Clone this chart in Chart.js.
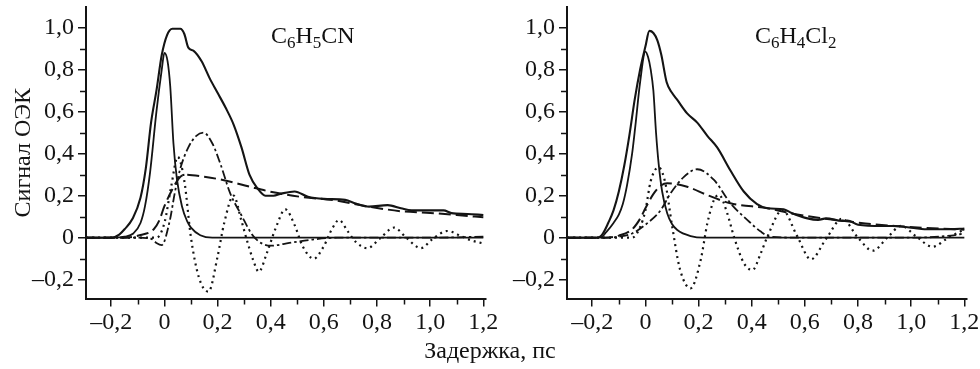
<!DOCTYPE html>
<html><head><meta charset="utf-8">
<script src="https://cdn.jsdelivr.net/npm/chart.js@4.4.0/dist/chart.umd.min.js"></script>
<style>
html,body{margin:0;padding:0;background:#fff;}
#wrap{position:relative;width:980px;height:369px;overflow:hidden;font-family:'Liberation Serif','Times New Roman',serif;color:#111;}
canvas{position:absolute;top:0;}
#cL{left:0;} #cR{left:490px;}
.lbl{position:absolute;font-size:24px;line-height:24px;white-space:nowrap;}
.lbl sub{font-size:17px;vertical-align:-5px;line-height:0;}
</style></head><body>
<div id="wrap">
<canvas id="cL" width="520" height="369"></canvas>
<canvas id="cR" width="490" height="369"></canvas>
<div class="lbl" id="fL" style="left:271px;top:23px">C<sub>6</sub>H<sub>5</sub>CN</div>
<div class="lbl" id="fR" style="left:755px;top:23px">C<sub>6</sub>H<sub>4</sub>Cl<sub>2</sub></div>
<div class="lbl" id="xt" style="left:0;width:980px;text-align:center;top:338px">Задержка, пс</div>
</div>
<script>
// ---- data: C6H5CN (left panel) ----
const cnTotalT = [-0.295,-0.2,-0.17,-0.15,-0.12,-0.09,-0.07,-0.05,-0.03,-0.01,0.01,0.03,0.06,0.075,0.09,0.11,0.14,0.17,0.2,0.23,0.26,0.29,0.32,0.35,0.38,0.41,0.44,0.49,0.54,0.6,0.68,0.72,0.77,0.84,0.89,0.93,1.05,1.08,1.14,1.2];
const cnTotalV = [0,0,0.015,0.04,0.09,0.19,0.33,0.55,0.70,0.87,0.965,0.995,0.995,0.97,0.905,0.89,0.84,0.76,0.69,0.62,0.54,0.43,0.30,0.235,0.2,0.2,0.21,0.22,0.195,0.185,0.18,0.163,0.148,0.155,0.14,0.13,0.13,0.117,0.113,0.108];
const cnPulseT = [-0.295,-0.19,-0.15,-0.117,-0.09,-0.073,-0.054,-0.03,-0.01,0,0.012,0.022,0.034,0.047,0.066,0.085,0.1,0.135,0.18,1.2];
const cnPulseV = [0,0,0.005,0.02,0.07,0.15,0.31,0.6,0.8,0.88,0.84,0.72,0.45,0.28,0.15,0.08,0.048,0.012,0,0];
const cnDashT = [-0.295,-0.15,-0.09,-0.04,-0.02,0,0.034,0.06,0.08,0.15,0.22,0.32,0.41,0.51,0.64,0.76,0.89,1.0,1.1,1.2];
const cnDashV = [0,0,0.013,0.04,0.08,0.15,0.24,0.29,0.30,0.29,0.275,0.243,0.216,0.195,0.178,0.15,0.126,0.118,0.108,0.097];
const cnDashDotT = [-0.295,-0.1,-0.05,-0.03,-0.01,0.02,0.04,0.06,0.09,0.12,0.147,0.18,0.21,0.248,0.286,0.336,0.4,0.47,0.55,0.65,0.8,1.0,1.2];
const cnDashDotV = [0,0,-0.005,-0.025,-0.035,0.08,0.22,0.33,0.43,0.485,0.5,0.45,0.354,0.21,0.116,0.005,-0.038,-0.025,-0.01,0,0,0,0.005];
const cnDotT = [-0.295,-0.03,0,0.025,0.05,0.075,0.1,0.13,0.166,0.2,0.225,0.26,0.29,0.31,0.335,0.355,0.385,0.42,0.455,0.49,0.52,0.562,0.6,0.63,0.657,0.69,0.72,0.764,0.81,0.864,0.91,0.965,1.01,1.065,1.12,1.16,1.2];
const cnDotV = [0,0,0.07,0.24,0.385,0.27,0.0,-0.19,-0.257,-0.09,0.07,0.2,0.08,-0.01,-0.11,-0.162,-0.075,0.05,0.135,0.06,-0.04,-0.1,-0.04,0.04,0.084,0.03,-0.02,-0.05,-0.005,0.048,0.0,-0.05,-0.005,0.032,0.005,-0.015,-0.027];

// ---- data: C6H4Cl2 (right panel) ----
const clTotalT = [-0.295,-0.18,-0.16,-0.14,-0.12,-0.1,-0.08,-0.06,-0.04,-0.02,0,0.015,0.03,0.045,0.06,0.08,0.1,0.12,0.157,0.195,0.233,0.27,0.32,0.37,0.42,0.46,0.52,0.55,0.61,0.65,0.68,0.74,0.76,0.8,0.89,0.93,1.01,1.05,1.15,1.2];
const clTotalV = [0,0,0.02,0.07,0.13,0.22,0.34,0.49,0.66,0.8,0.91,0.985,0.975,0.94,0.87,0.74,0.69,0.656,0.592,0.548,0.485,0.43,0.32,0.22,0.16,0.14,0.135,0.118,0.092,0.085,0.092,0.08,0.082,0.062,0.056,0.056,0.046,0.04,0.04,0.044];
const clPulseT = [-0.295,-0.17,-0.145,-0.12,-0.1,-0.085,-0.069,-0.05,-0.038,-0.02,0,0.01,0.02,0.03,0.04,0.05,0.063,0.082,0.1,0.12,0.17,0.22,1.2];
const clPulseV = [0,0,0.03,0.07,0.11,0.16,0.25,0.4,0.53,0.74,0.886,0.86,0.8,0.7,0.5,0.35,0.22,0.116,0.065,0.037,0.008,0,0];
const clDashT = [-0.295,-0.15,-0.1,-0.05,-0.02,0,0.031,0.06,0.082,0.157,0.233,0.32,0.46,0.55,0.65,0.75,0.85,0.95,1.05,1.2];
const clDashV = [0,0,0.01,0.04,0.09,0.14,0.21,0.25,0.259,0.243,0.203,0.164,0.14,0.115,0.095,0.08,0.065,0.055,0.047,0.038];
const clDashDotT = [-0.295,-0.15,-0.1,-0.05,0.006,0.057,0.094,0.145,0.195,0.258,0.32,0.384,0.434,0.47,0.6,0.8,1.0,1.15,1.2];
const clDashDotV = [0,0,0.005,0.02,0.068,0.13,0.21,0.29,0.326,0.275,0.164,0.084,0.029,0.005,0,0,0,0.01,0.02];
const clDotT = [-0.295,-0.05,-0.02,0,0.02,0.05,0.075,0.1,0.13,0.17,0.208,0.233,0.258,0.277,0.308,0.333,0.371,0.403,0.434,0.459,0.516,0.57,0.623,0.68,0.74,0.8,0.855,0.91,0.962,1.02,1.08,1.14,1.2];
const clDotV = [0,0,0.05,0.13,0.27,0.335,0.26,0.06,-0.15,-0.241,-0.106,0.068,0.18,0.203,0.116,0.005,-0.122,-0.154,-0.074,0.005,0.132,0.01,-0.103,-0.005,0.09,0.0,-0.062,0.0,0.056,0.005,-0.043,0.0,0.04];

// ---- ticks ----
const xMajor = [-0.2,0,0.2,0.4,0.6,0.8,1.0,1.2];
const xMinor = [-0.1,0.1,0.3,0.5,0.7,0.9,1.1];
const yMajor = [-0.2,0,0.2,0.4,0.6,0.8,1.0];
const yMinor = [-0.1,0.1,0.3,0.5,0.7,0.9];
const yTitle = 'Сигнал ОЭК';

const INK = '#141414';
const FONT = "'Liberation Serif','Times New Roman',serif";
const FS = 24;

function fmt(v){
  if (Math.abs(v) < 1e-9) return '0';
  return (v < 0 ? '\u2013' : '') + Math.abs(v).toFixed(1).replace('.', ',');
}
function ds(t, v, w, dash){
  return { data: t.map((x,i)=>({x:x, y:v[i]})), borderColor: INK, borderWidth: w,
    borderDash: dash, pointRadius: 0, fill: false, cubicInterpolationMode: 'monotone' };
}
const minorTicks = {
  id: 'minorTicks',
  afterDraw(chart){
    const {ctx} = chart; const x = chart.scales.x, y = chart.scales.y;
    ctx.save(); ctx.strokeStyle = INK; ctx.lineWidth = 1.5; ctx.beginPath();
    xMinor.forEach(v=>{ const p = Math.round(x.getPixelForValue(v))+0.5; ctx.moveTo(p, x.top); ctx.lineTo(p, x.top+6); });
    yMinor.forEach(v=>{ const p = Math.round(y.getPixelForValue(v))+0.5; ctx.moveTo(y.right, p); ctx.lineTo(y.right-6, p); });
    ctx.stroke(); ctx.restore();
  }
};

function makeChart(id, sets, yWidth, padRight, showTitle){
  return new Chart(document.getElementById(id), {
    type: 'line',
    data: { datasets: [
      ds(sets[0], sets[1], 2.1, []),
      ds(sets[2], sets[3], 1.8, []),
      ds(sets[4], sets[5], 2, [12,5]),
      ds(sets[6], sets[7], 1.8, [9,3,2.5,3]),
      ds(sets[8], sets[9], 2.2, [2,4])
    ]},
    options: {
      responsive: false, animation: false, devicePixelRatio: 1,
      layout: { padding: { left: 0, right: padRight, top: 6.7, bottom: 0 } },
      plugins: { legend: {display:false}, tooltip: {enabled:false} },
      scales: {
        x: { type: 'linear', min: -0.295, max: 1.21,
          afterBuildTicks: s => { s.ticks = xMajor.map(v=>({value:v})); },
          afterFit: s => { s.height = 70.4; s.paddingLeft = 0; s.paddingRight = 0; },
          grid: { display: true, drawOnChartArea: false, drawTicks: true, tickLength: 8, color: INK, lineWidth: 1.5 },
          border: { display: true, color: INK, width: 2 },
          ticks: { callback: v => fmt(v), color: INK, font: {family: FONT, size: FS}, padding: 2, maxRotation: 0, autoSkip: false }
        },
        y: { type: 'linear', min: -0.29, max: 1.1,
          afterBuildTicks: s => { s.ticks = yMajor.map(v=>({value:v})); },
          afterFit: s => { s.width = yWidth; s.paddingTop = 0; s.paddingBottom = 0; },
          grid: { display: true, drawOnChartArea: false, drawTicks: true, tickLength: 8, color: INK, lineWidth: 1.5 },
          border: { display: true, color: INK, width: 2 },
          ticks: { callback: v => fmt(v), color: INK, font: {family: FONT, size: FS}, padding: 4, autoSkip: false },
          title: { display: showTitle, text: yTitle, color: INK, font: {family: FONT, size: FS, weight: 'normal'}, padding: {top: 9, bottom: 0} }
        }
      }
    },
    plugins: [minorTicks]
  });
}

makeChart('cL', [cnTotalT, cnTotalV, cnPulseT, cnPulseV, cnDashT, cnDashV, cnDashDotT, cnDashDotV, cnDotT, cnDotV], 86, 34, true);
makeChart('cR', [clTotalT, clTotalV, clPulseT, clPulseV, clDashT, clDashV, clDashDotT, clDashDotV, clDotT, clDotV], 77, 13, false);
</script>
</body></html>
